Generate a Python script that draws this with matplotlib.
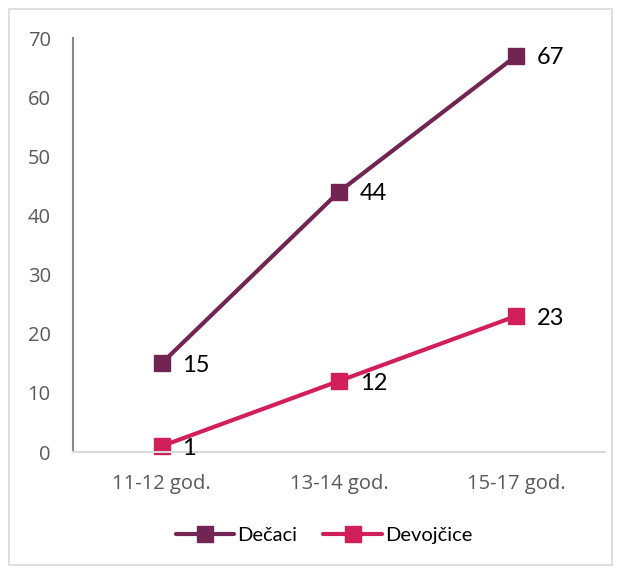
import matplotlib
matplotlib.use("Agg")
import matplotlib.pyplot as plt
from matplotlib.patches import Rectangle

categories = ["11-12 god.", "13-14 god.", "15-17 god."]
decaci = [15, 44, 67]
devojcice = [1, 12, 23]
yticks = [0, 10, 20, 30, 40, 50, 60, 70]

c_dec = "#722552"
c_dev = "#D11F5A"

plt.rcParams['font.family'] = ['Open Sans', 'DejaVu Sans']

W, H = 622, 569
fig = plt.figure(figsize=(W/100, H/100), dpi=100)
ax = fig.add_axes([73/W, 1-452/H, (605-73)/W, (452-38)/H])

x = list(range(len(categories)))
ax.plot(x, decaci, color=c_dec, lw=3, marker='s', ms=11.5, mfc=c_dec, mec=c_dec,
        label="Dečaci", solid_capstyle='round')
ax.plot(x, devojcice, color=c_dev, lw=3, marker='s', ms=11.5, mfc=c_dev, mec=c_dev,
        label="Devojčice", solid_capstyle='round')

for series in (decaci, devojcice):
    for xi, v in zip(x, series):
        ax.annotate(str(v), (xi, v), xytext=(15, -1.5), textcoords='offset points',
                    va='center', ha='left', fontsize=17, color='black',
                    family=['Lato', 'DejaVu Sans'])

ax.set_xlim(-0.5, 2.5)
ax.set_ylim(0, 70)
ax.set_xticks(x)
ax.set_xticklabels(categories)
ax.set_yticks(yticks)
ax.tick_params(axis='both', length=0, labelsize=14.5, colors='#595959')
ax.tick_params(axis='x', pad=16)
ax.tick_params(axis='y', pad=16)

for s in ['top', 'right']:
    ax.spines[s].set_visible(False)
ax.spines['left'].set_color('#878787')
ax.spines['left'].set_linewidth(1.5)
ax.spines['bottom'].set_color('#D9D9D9')
ax.spines['bottom'].set_linewidth(1.5)
for ln in ax.lines:
    ln.set_clip_on(False)

leg = fig.legend(loc='center', bbox_to_anchor=(324/W, 1-535/H), ncol=2, frameon=False,
                 handlelength=2.9, columnspacing=1.3, handletextpad=0.15,
                 prop={'family': ['Lato', 'DejaVu Sans'], 'size': 14.5})

fig.patches.append(Rectangle((9/W, 4/H), (612-9)/W, (560-4)/H, transform=fig.transFigure,
                             fill=False, edgecolor='#D9D9D9', lw=1.2))

fig.savefig("out.png", dpi=100)
